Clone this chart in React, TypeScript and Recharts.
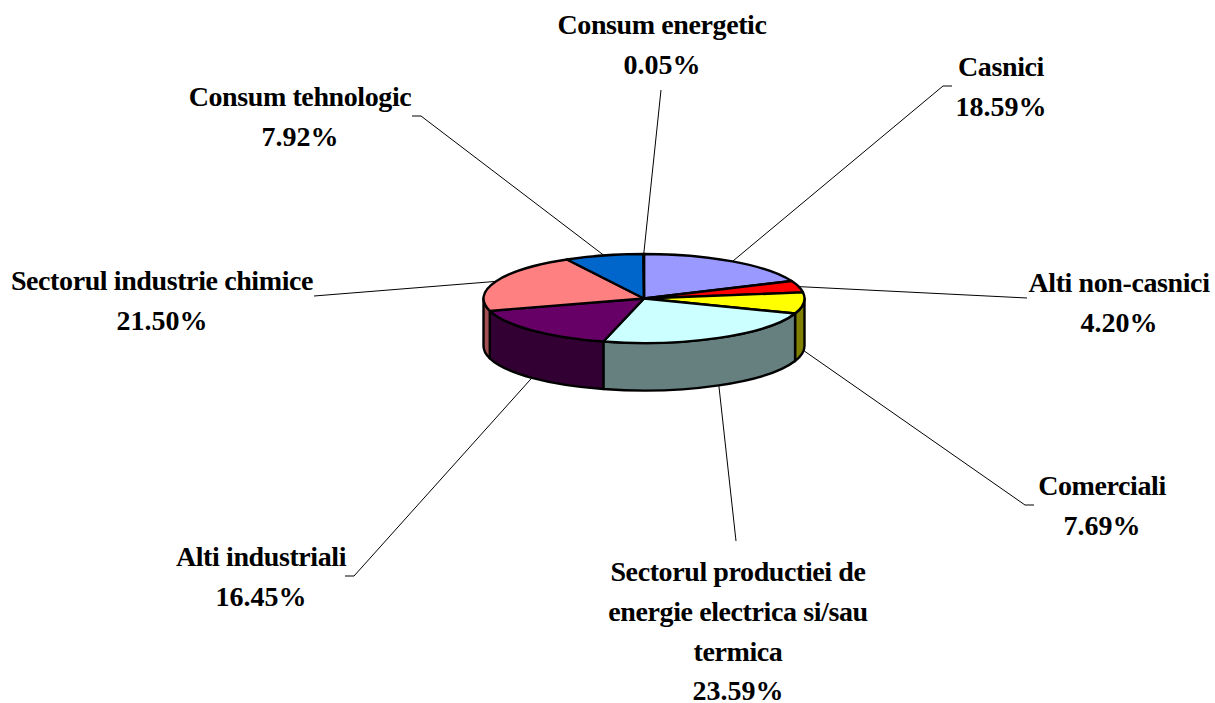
import { PieChart, Pie } from "recharts";

const NAMES = [
  "Casnici",
  "Alti non-casnici",
  "Comerciali",
  "Sectorul productiei de energie electrica si/sau termica",
  "Alti industriali",
  "Sectorul industrie chimice",
  "Consum tehnologic",
  "Consum energetic",
];
const SHARES = [18.59, 4.2, 7.69, 23.59, 16.45, 21.5, 7.92, 0.05];
const TOP_COLORS = ["#9999FF", "#FF0000", "#FFFF00", "#CCFFFF", "#660066", "#FF8080", "#0066CC", "#CCCCFF"];
const WALL_COLORS = ["#4C4C80", "#800000", "#808000", "#668080", "#330033", "#A05050", "#003366", "#666680"];
const LABEL_LINES = [
  ["Casnici"],
  ["Alti non-casnici"],
  ["Comerciali"],
  ["Sectorul productiei de", "energie electrica si/sau", "termica"],
  ["Alti industriali"],
  ["Sectorul industrie chimice"],
  ["Consum tehnologic"],
  ["Consum energetic"],
];

// where each label sits: text centre, first baseline, then the leader line's outer points
const LABEL_LAYOUT = [
  { x: 1001, y: 76, leader: [[943, 86], [952, 86]] },
  { x: 1119, y: 292, leader: [[1027, 298]] },
  { x: 1102, y: 495, leader: [[1025, 505], [1034, 505]] },
  { x: 738, y: 581, leader: [[736, 541]] },
  { x: 261, y: 566, leader: [[354, 576], [345, 576]] },
  { x: 162, y: 290, leader: [[314, 296]] },
  { x: 300, y: 106, leader: [[421, 116], [412, 116]] },
  { x: 662, y: 34, leader: [[661, 90]] },
];

const RX = 160.5;
const RY = 44.5;
const DEPTH = 47.5;

const pt = (cx: number, cy: number, deg: number) => {
  const a = (deg * Math.PI) / 180;
  return [cx + RX * Math.cos(a), cy - RY * Math.sin(a)];
};

// the pie is tilted, so each sector is redrawn on an ellipse
const TiltedSector = (props: any) => {
  const { cx, cy, startAngle, endAngle, fill, index } = props;
  const s = pt(cx, cy, startAngle);
  const e = pt(cx, cy, endAngle);
  const large = startAngle - endAngle > 180 ? 1 : 0;
  const top = `M${cx},${cy} L${s[0]},${s[1]} A${RX},${RY} 0 ${large} 1 ${e[0]},${e[1]} Z`;

  // only the part of the rim between 0 and -180 faces the viewer
  const wallStart = Math.min(startAngle, 0);
  const wallEnd = Math.max(endAngle, -180);
  let wall = null;
  if (wallStart > wallEnd) {
    const a = pt(cx, cy, wallStart);
    const b = pt(cx, cy, wallEnd);
    wall = (
      <path
        d={`M${a[0]},${a[1]} A${RX},${RY} 0 0 1 ${b[0]},${b[1]} L${b[0]},${b[1] + DEPTH} A${RX},${RY} 0 0 0 ${a[0]},${a[1] + DEPTH} Z`}
        fill={WALL_COLORS[index]}
        stroke="#000"
        strokeWidth={2.4}
        strokeLinejoin="round"
      />
    );
  }
  return (
    <g>
      {wall}
      <path d={top} fill={fill} stroke="#000" strokeWidth={2.4} strokeLinejoin="round" />
    </g>
  );
};

const renderLabel = (props: any) => {
  const { cx, cy, midAngle, index } = props;
  const layout = LABEL_LAYOUT[index];
  const anchor = pt(cx, cy, midAngle);
  const front = Math.sin((midAngle * Math.PI) / 180) < 0;
  const points = [[anchor[0], anchor[1] + (front ? DEPTH : 0)], ...layout.leader];
  const names = LABEL_LINES[index];
  return (
    <g key={NAMES[index]}>
      <polyline points={points.map((p) => p.join(",")).join(" ")} fill="none" stroke="#000" strokeWidth={1} />
      <text
        textAnchor="middle"
        fontFamily="'Liberation Serif', serif"
        fontWeight="bold"
        fontSize={28}
        fill="#000"
      >
        {names.map((line, i) => (
          <tspan key={i} x={layout.x} y={layout.y + i * 40} letterSpacing={-0.4}>
            {line}
          </tspan>
        ))}
        <tspan x={layout.x} y={layout.y + names.length * 40 - (names.length > 1 ? 1 : 0)}>
          {`${SHARES[index].toFixed(2)}%`}
        </tspan>
      </text>
    </g>
  );
};

const chartData = NAMES.map((name, i) => ({ name, value: SHARES[i], fill: TOP_COLORS[i] }));

export default function App() {
  return (
    <div style={{ position: "absolute", left: 0, top: 0 }}>
      <PieChart width={1215} height={703} margin={{ top: 0, right: 0, bottom: 0, left: 0 }}>
        <Pie
          data={chartData}
          dataKey="value"
          nameKey="name"
          cx={644}
          cy={298.5}
          outerRadius={RX}
          startAngle={90}
          endAngle={-270}
          shape={TiltedSector}
          label={renderLabel}
          labelLine={false}
          isAnimationActive={false}
        />
      </PieChart>
    </div>
  );
}
